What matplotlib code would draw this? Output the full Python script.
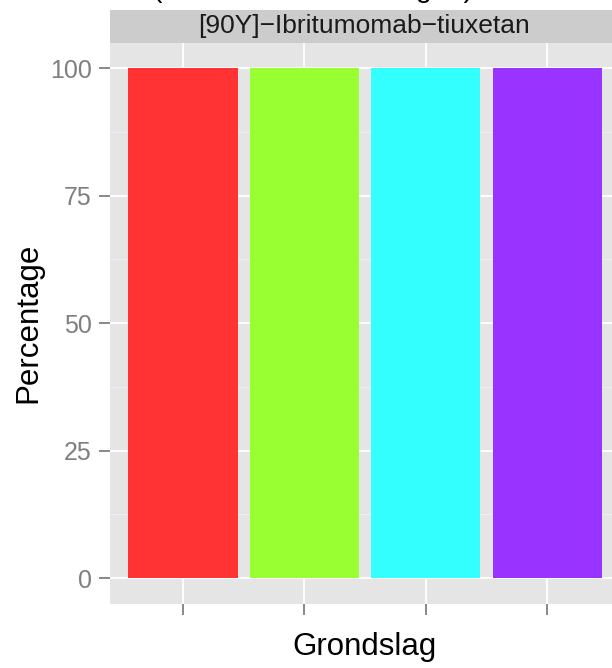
import matplotlib
matplotlib.use("Agg")
import matplotlib.pyplot as plt
from matplotlib.patches import Rectangle

plt.rcParams["font.family"] = ["Liberation Sans", "DejaVu Sans"]

# data
grondslag = ["A", "B", "C", "D"]
percentage = [100, 100, 100, 100]
tick_labels = ["", "", "", ""]
bar_colors = ["#FF3333", "#99FF33", "#33FFFF", "#9933FF"]
y_ticks = [0, 25, 50, 75, 100]
strip_label = "[90Y]\u2212Ibritumomab\u2212tiuxetan"
title = "(Totaal aantal meldingen)"

W, H = 612, 668
fig = plt.figure(figsize=(W / 100, H / 100), dpi=100)

# panel extends past the right edge like in the cropped original
left, right, top, bottom = 110, 620, 42.5, 603.5
ax = fig.add_axes([left / W, 1 - bottom / H, (right - left) / W, (bottom - top) / H])
ax.set_facecolor("#E5E5E5")

x = list(range(1, len(grondslag) + 1))
ax.set_xlim(0.4, len(grondslag) + 0.6)
ax.set_ylim(-5, 105)

for v in [12.5, 37.5, 62.5, 87.5]:
    ax.axhline(v, color="#F2F2F2", lw=0.6, zorder=0)
for v in y_ticks:
    ax.axhline(v, color="white", lw=1.3, zorder=0)
for xi in x:
    ax.axvline(xi, color="white", lw=1.3, zorder=0)

ax.bar(x, percentage, width=0.9, color=bar_colors, zorder=2)

ax.set_xticks(x)
ax.set_xticklabels(tick_labels)
ax.set_yticks(y_ticks)
ax.set_yticklabels([str(v) for v in y_ticks], fontsize=18, color="#7F7F7F")
ax.tick_params(axis="both", colors="#7F7F7F", length=8, width=1.3, labelcolor="#7F7F7F")
ax.tick_params(axis="y", pad=5)
for s in ax.spines.values():
    s.set_visible(False)

fig.text(364 / W, 1 - 655 / H, "Grondslag", fontsize=22.5, ha="center", va="baseline")
fig.text(13 / W, 1 - 323 / H, "Percentage", fontsize=22.5, rotation=90,
         ha="left", va="center")

# facet strip
strip = fig.add_axes([left / W, 1 - top / H, (right - left) / W, (top - 10) / H])
strip.set_xlim(0, 1)
strip.set_ylim(0, 1)
strip.add_patch(Rectangle((0, 0), 1, 1, color="#CCCCCC"))
strip.axis("off")
fig.text(363.5 / W, 1 - 26 / H, strip_label, fontsize=19, color="#1A1A1A",
         ha="center", va="center")

# title, almost entirely above the top edge (only descenders show)
fig.text(313 / W, 1 + 3 / H, title, fontsize=20.5, ha="center", va="baseline")

fig.savefig("out.png", dpi=100)
